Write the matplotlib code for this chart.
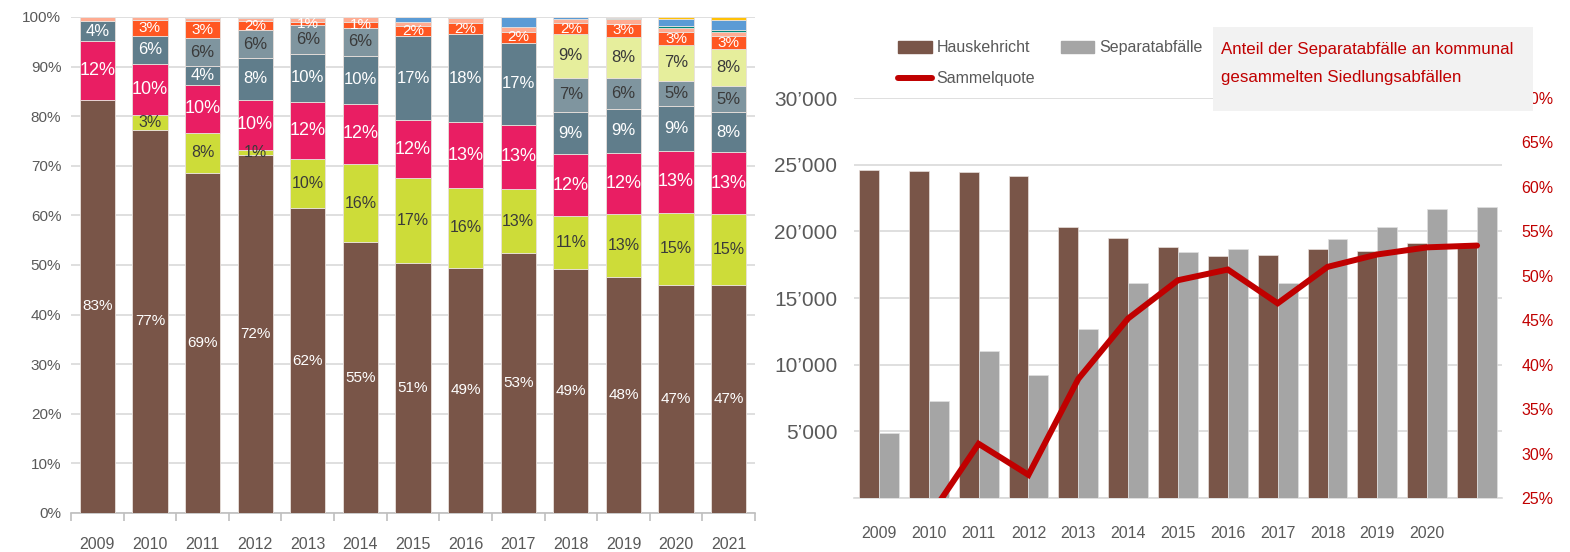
import matplotlib
matplotlib.use("Agg")
import matplotlib.pyplot as plt
import numpy as np
from matplotlib.patches import Rectangle, Patch
from matplotlib.lines import Line2D
from matplotlib.ticker import FuncFormatter, FixedLocator

NARROW = ['Liberation Sans Narrow', 'Liberation Sans', 'DejaVu Sans']
REG = ['Liberation Sans', 'DejaVu Sans']
plt.rcParams['font.family'] = REG

# ---------------- data ----------------
years = ['2009', '2010', '2011', '2012', '2013', '2014', '2015',
         '2016', '2017', '2018', '2019', '2020', '2021']

# left chart: composition of collected municipal waste (%)
hauskehricht_pct = [83.3, 77.4, 68.8, 72.4, 61.6, 54.7, 50.6, 49.3, 52.6, 49.1, 47.6, 46.6, 46.6]
kat_b = [0.0, 3.1, 8.1, 1.0, 10.0, 15.8, 17.0, 16.1, 13.1, 10.8, 12.8, 14.6, 14.6]
kat_c = [11.9, 10.2, 9.7, 10.2, 11.6, 12.2, 11.8, 13.2, 13.0, 12.4, 12.3, 12.7, 12.6]
kat_d = [3.9, 5.7, 3.8, 8.4, 9.7, 9.7, 16.9, 17.7, 16.6, 8.6, 8.8, 9.2, 8.2]
kat_e = [0.0, 0.0, 5.6, 5.6, 5.7, 5.6, 0.0, 0.0, 0.0, 6.9, 6.3, 5.1, 5.3]
kat_f = [0.0, 0.0, 0.0, 0.0, 0.0, 0.0, 0.0, 0.0, 0.0, 8.7, 8.3, 7.3, 7.6]
kat_g = [0.0, 3.1, 3.4, 1.8, 0.7, 1.2, 2.0, 2.3, 2.2, 2.3, 2.6, 2.6, 2.7]
kat_h = [0.9, 0.7, 0.6, 0.7, 0.7, 1.0, 0.8, 0.9, 0.9, 0.8, 0.9, 0.9, 0.9]
kat_i = [0.0, 0.0, 0.0, 0.0, 0.0, 0.0, 0.0, 0.0, 0.0, 0.0, 0.3, 0.3, 0.3]
kat_j = [0.0, 0.0, 0.3, 0.2, 0.3, 0.0, 1.1, 0.3, 2.1, 0.4, 0.2, 1.5, 2.0]
kat_k = [0.0, 0.0, 0.0, 0.0, 0.0, 0.0, 0.0, 0.0, 0.0, 0.0, 0.0, 0.4, 0.7]

# right chart
right_tick_labels = ['2009', '2010', '2011', '2012', '2013', '2014', '2015',
                     '2016', '2017', '2018', '2019', '2020', '']
hauskehricht_t = [24600, 24525, 24425, 24175, 20300, 19475, 18850, 18175, 18225, 18700, 18525, 19125, 19075]
separat_t = [4875, 7250, 11050, 9225, 12675, 16100, 18425, 18650, 16100, 19400, 20300, 21700, 21825]
sammelquote = [0.165, 0.228, 0.311, 0.276, 0.384, 0.452, 0.495, 0.507, 0.469, 0.510, 0.524, 0.532, 0.534]

# ---------------- styles ----------------
series = [
    (hauskehricht_pct, '#795548', 'white', 11, True),
    (kat_b, '#CDDC39', '#3a3a3a', 11.5, True),
    (kat_c, '#E91E63', 'white', 13, True),
    (kat_d, '#607D8B', 'white', 12, True),
    (kat_e, '#7F959F', '#3a3a3a', 12, True),
    (kat_f, '#E6EE9C', '#3a3a3a', 12, True),
    (kat_g, '#FF5722', 'white', 11, True),
    (kat_h, '#FFAB91', 'white', 10, False),
    (kat_i, '#00897B', 'white', 10, False),
    (kat_j, '#5B9BD5', 'white', 10, False),
    (kat_k, '#FFC107', 'white', 10, False),
]

GRID = '#D9D9D9'
TXT = '#595959'

fig = plt.figure(figsize=(15.70, 5.52), dpi=100)

# ---------------- left chart ----------------
axL = fig.add_axes([71 / 1570, (552 - 513) / 552, 684 / 1570, 496 / 552])
x = np.arange(len(years))
totals = np.sum([np.array(s[0]) for s in series], axis=0)
bottom = np.zeros(len(years))
for vals, col, tcol, fs, lab in series:
    v = np.array(vals)
    h = v / totals * 100
    axL.bar(x, h, 0.67, bottom=bottom, color=col, edgecolor='#e8e0dc',
            linewidth=0.6, zorder=3)
    if lab:
        for i in range(len(years)):
            if v[i] >= 0.5:
                axL.text(x[i], bottom[i] + h[i] / 2, f"{v[i]:.0f}%",
                         ha='center', va='center', color=tcol, fontsize=fs,
                         family=NARROW, zorder=4)
    bottom += h

axL.set_xlim(-0.5, len(years) - 0.5)
axL.set_ylim(0, 100)
axL.set_yticks(np.arange(0, 101, 10))
axL.yaxis.set_major_formatter(FuncFormatter(lambda v, p: f"{v:.0f}%"))
axL.grid(axis='y', color=GRID, linewidth=1.2, zorder=0)
axL.set_axisbelow(True)
for s in ['top', 'right', 'left']:
    axL.spines[s].set_visible(False)
axL.spines['bottom'].set_color('#BFBFBF')
axL.spines['bottom'].set_linewidth(1.2)
axL.set_xticks(x)
axL.set_xticklabels(years)
axL.xaxis.set_minor_locator(FixedLocator(np.arange(-0.5, len(years), 1.0)))
axL.tick_params(axis='x', which='major', length=0, pad=17, labelsize=11.5, labelcolor=TXT)
axL.tick_params(axis='x', which='minor', length=6, color='#BFBFBF', width=1.2)
axL.tick_params(axis='y', length=0, pad=7, labelsize=11, labelcolor=TXT)

# ---------------- right chart ----------------
axR = fig.add_axes([854 / 1570, (552 - 498) / 552, 648 / 1570, 400 / 552])
xr = np.arange(len(hauskehricht_t))
axR.bar(xr - 0.2, hauskehricht_t, 0.4, color='#795548', edgecolor='#e8e0dc', linewidth=0.5, zorder=3)
axR.bar(xr + 0.2, separat_t, 0.4, color='#A5A5A5', edgecolor='#e0e0e0', linewidth=0.5, zorder=3)
axR.set_xlim(-0.5, len(xr) - 0.5)
axR.set_ylim(0, 30000)
axR.set_yticks(np.arange(0, 30001, 5000))
axR.yaxis.set_major_formatter(FuncFormatter(
    lambda v, p: '' if v == 0 else f"{int(v):,}".replace(',', '\u2019')))
axR.grid(axis='y', color=GRID, linewidth=1.2, zorder=0)
axR.set_axisbelow(True)
for s in ['top', 'right', 'left']:
    axR.spines[s].set_visible(False)
axR.spines['bottom'].set_color(GRID)
axR.spines['bottom'].set_linewidth(1.2)
axR.set_xticks(xr)
axR.set_xticklabels(right_tick_labels)
axR.tick_params(axis='x', length=0, pad=20, labelsize=11.5, labelcolor=TXT)
axR.tick_params(axis='y', length=0, pad=12, labelsize=15, labelcolor=TXT)
for t in axR.get_yticklabels():
    t.set_family(NARROW)

ax2 = axR.twinx()
ax2.plot(xr, sammelquote, color='#C00000', linewidth=4.3, solid_capstyle='round',
         solid_joinstyle='miter', zorder=5)
ax2.set_ylim(0.25, 0.70)
ax2.set_yticks(np.arange(0.25, 0.701, 0.05))
ax2.yaxis.set_major_formatter(FuncFormatter(lambda v, p: f"{v * 100:.0f}%"))
ax2.tick_params(axis='y', length=0, pad=14, labelsize=11.5, labelcolor='#C00000')
for s in ['top', 'right', 'left', 'bottom']:
    ax2.spines[s].set_visible(False)

# legend
handles = [Patch(color='#795548'), Line2D([], [], color='#C00000', lw=4.3, solid_capstyle='round'),
           Patch(color='#A5A5A5')]
labels = ['Hauskehricht', 'Sammelquote', 'Separatabfälle']
leg = fig.legend(handles, labels, ncol=2, loc='upper left',
                 bbox_to_anchor=(884 / 1570, 1 - 26 / 552), frameon=False,
                 prop={'family': NARROW, 'size': 11.5}, labelcolor=TXT,
                 handlelength=2.1, handleheight=0.75, handletextpad=0.3,
                 columnspacing=1.6, labelspacing=1.0)
leg.set_zorder(3)

# annotation box
rect = Rectangle((1213 / 1570, (552 - 111) / 552), 320 / 1570, 84 / 552,
                 transform=fig.transFigure, facecolor='#F2F2F2', edgecolor='none', zorder=10)
fig.add_artist(rect)
fig.text(1221 / 1570, 1 - 49 / 552, 'Anteil der Separatabfälle an kommunal',
         color='#C00000', fontsize=12.2, family=NARROW, va='center', ha='left', zorder=11)
fig.text(1221 / 1570, 1 - 77 / 552, 'gesammelten Siedlungsabfällen',
         color='#C00000', fontsize=12.2, family=NARROW, va='center', ha='left', zorder=11)

fig.savefig('out.png', dpi=100)
